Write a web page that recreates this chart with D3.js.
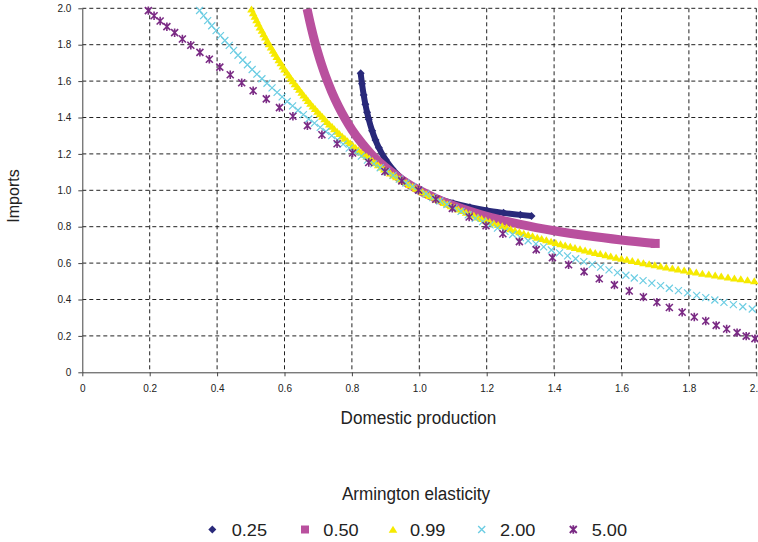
<!DOCTYPE html>
<html>
<head>
<meta charset="utf-8">
<script src="https://cdn.jsdelivr.net/npm/d3@7"></script>
<style>
  body { margin: 0; background: #fff; }
  text { font-family: "Liberation Sans", Arial, sans-serif; fill: #222; }
</style>
</head>
<body>
<div id="chart"></div>
<script>
// Armington elasticity curves
var seriesLabels = ["0.25", "0.50", "0.99", "2.00", "5.00"];
var tickValues = [0, 0.2, 0.4, 0.6, 0.8, 1.0, 1.2, 1.4, 1.6, 1.8, 2.0];

var x025 = [0.826,0.830,0.835,0.840,0.845,0.850,0.860,0.870,0.880,0.900,0.920,0.940,0.960,0.980,1.000,1.030,1.060,1.100,1.150,1.200,1.250,1.300,1.333];
var y025 = [1.643,1.585,1.524,1.473,1.429,1.391,1.327,1.276,1.234,1.168,1.118,1.079,1.048,1.022,1.000,0.973,0.952,0.929,0.907,0.889,0.876,0.865,0.859];

var x050 = [0.667,0.670,0.680,0.690,0.700,0.710,0.720,0.740,0.760,0.780,0.800,0.830,0.860,0.900,0.950,1.000,1.050,1.100,1.150,1.200,1.300,1.400,1.500,1.600,1.700];
var y050 = [1.997,1.971,1.889,1.816,1.750,1.690,1.636,1.542,1.462,1.393,1.333,1.258,1.194,1.125,1.056,1.000,0.955,0.917,0.885,0.857,0.813,0.778,0.750,0.727,0.708];

var x099 = [0.502,0.507,0.512,0.517,0.522,0.527,0.533,0.538,0.543,0.549,
  0.554,0.560,0.566,0.571,0.577,0.583,0.589,0.595,0.600,0.607,
  0.613,0.619,0.625,0.631,0.638,0.644,0.651,0.657,0.664,0.670,
  0.677,0.684,0.691,0.698,0.705,0.712,0.719,0.726,0.733,0.741,
  0.748,0.756,0.763,0.771,0.779,0.787,0.795,0.803,0.811,0.819,
  0.827,0.835,0.844,0.852,0.861,0.869,0.878,0.887,0.896,0.905,
  0.914,0.923,0.932,0.942,0.951,0.961,0.970,0.980,0.990,
  1.000,1.010,1.020,1.030,1.041,1.051,1.062,1.073,1.083,1.094,
  1.105,1.116,1.127,1.139,1.150,1.162,1.174,1.185,1.197,1.209,
  1.221,1.234,1.246,1.259,1.271,1.284,1.297,1.310,1.323,1.336,
  1.350,1.363,1.377,1.391,1.405,1.419,1.433,1.448,1.462,1.477,
  1.492,1.507,1.522,1.537,1.553,1.568,1.584,1.600,1.616,1.632,
  1.649,1.665,1.682,1.699,1.716,1.733,1.751,1.768,1.786,1.804,
  1.822,1.840,1.859,1.878,1.896,1.916,1.935,1.954,1.974,1.994];
var y099 = [1.994,1.974,1.954,1.935,1.916,1.896,1.878,1.859,1.840,1.822,
  1.804,1.786,1.768,1.751,1.733,1.716,1.699,1.682,1.665,1.649,
  1.632,1.616,1.600,1.584,1.568,1.553,1.537,1.522,1.507,1.492,
  1.477,1.462,1.448,1.433,1.419,1.405,1.391,1.377,1.363,1.350,
  1.336,1.323,1.310,1.297,1.284,1.271,1.259,1.246,1.234,1.221,
  1.209,1.197,1.185,1.174,1.162,1.150,1.139,1.127,1.116,1.105,
  1.094,1.083,1.073,1.062,1.051,1.041,1.030,1.020,1.010,1.000,
  0.990,0.980,0.970,0.961,0.951,0.942,0.932,0.923,0.914,
  0.905,0.896,0.887,0.878,0.869,0.861,0.852,0.844,0.835,0.827,
  0.819,0.811,0.803,0.795,0.787,0.779,0.771,0.763,0.756,0.748,
  0.741,0.733,0.726,0.719,0.712,0.705,0.698,0.691,0.684,0.677,
  0.670,0.664,0.657,0.651,0.644,0.638,0.631,0.625,0.619,0.613,
  0.607,0.600,0.595,0.589,0.583,0.577,0.571,0.566,0.560,0.554,
  0.549,0.543,0.538,0.533,0.527,0.522,0.517,0.512,0.507,0.502];

var x200 = [0.348,0.360,0.372,0.384,0.397,0.410,0.423,0.436,0.449,0.462,
  0.476,0.490,0.504,0.518,0.533,0.548,0.563,0.578,0.593,0.608,
  0.624,0.640,0.656,0.672,0.689,0.706,0.723,0.740,0.757,0.774,
  0.792,0.810,0.828,0.846,0.865,0.884,0.903,0.922,0.941,0.960,
  0.980,1.000,1.020,1.040,1.061,1.082,1.103,1.124,1.145,1.166,
  1.188,1.210,1.232,1.254,1.277,1.300,1.323,1.346,1.369,1.392,
  1.416,1.440,1.464,1.488,1.513,1.538,1.563,1.588,1.613,1.638,
  1.664,1.690,1.716,1.742,1.769,1.796,1.823,1.850,1.877,1.904,
  1.932,1.960,1.988];
var y200 = [1.988,1.960,1.932,
  1.904,1.877,1.850,1.823,1.796,1.769,1.742,1.716,1.690,1.664,
  1.638,1.613,1.588,1.563,1.538,1.513,1.488,1.464,1.440,1.416,
  1.392,1.369,1.346,1.323,1.300,1.277,1.254,1.232,1.210,1.188,
  1.166,1.145,1.124,1.103,1.082,1.061,1.040,1.020,1.000,0.980,
  0.960,0.941,0.922,0.903,0.884,0.865,0.846,0.828,0.810,0.792,
  0.774,0.757,0.740,0.723,0.706,0.689,0.672,0.656,0.640,0.624,
  0.608,0.593,0.578,0.563,0.548,0.533,0.518,0.504,0.490,0.476,
  0.462,0.449,0.436,0.423,0.410,0.397,0.384,0.372,0.360,0.348];

var x500 = [0.196,0.213,0.231,0.251,0.274,0.297,0.322,0.349,0.377,0.408,
  0.439,0.473,0.507,0.546,0.585,0.625,0.668,0.711,0.756,0.802,
  0.850,0.898,0.948,0.998,1.049,1.098,1.148,1.198,1.248,1.297,
  1.347,1.395,1.443,1.489,1.534,1.579,1.623,1.665,1.705,1.742,
  1.780,1.816,1.850,1.881,1.912,1.943,1.970,1.996];
var y500 = [1.987,1.959,1.930,1.899,1.866,1.831,1.797,1.758,1.720,1.677,
  1.635,1.591,1.547,1.502,1.454,1.407,1.355,1.305,1.256,1.205,
  1.153,1.103,1.052,1.001,0.951,0.901,0.853,0.805,0.761,0.718,
  0.674,0.630,0.591,0.553,0.514,0.480,0.447,0.414,0.385,0.356,
  0.330,0.304,0.282,0.258,0.238,0.218,0.199,0.185];

var svgWidth = 758;
var svgHeight = 542;
var margin = { top: 8.3, left: 82.3 };
var width = 674;
var height = 364;

var svg = d3.select("#chart")
  .append("svg")
  .attr("width", svgWidth)
  .attr("height", svgHeight);

var chartGroup = svg.append("g")
  .attr("transform", `translate(${margin.left}, ${margin.top})`);

var xLinearScale = d3.scaleLinear().domain([0, 2]).range([0, width]);
var yLinearScale = d3.scaleLinear().domain([0, 2]).range([height, 0]);

var fmt = d => d === 0 ? "0" : d3.format(".1f")(d);

// dashed gridlines
chartGroup.append("g").selectAll("line.gx")
  .data(tickValues.filter(d => d > 0))
  .enter().append("line")
  .attr("x1", d => xLinearScale(d)).attr("x2", d => xLinearScale(d))
  .attr("y1", 0).attr("y2", height)
  .attr("stroke", "#222").attr("stroke-dasharray", "4,3");

chartGroup.append("g").selectAll("line.gy")
  .data(tickValues.filter(d => d > 0))
  .enter().append("line")
  .attr("y1", d => yLinearScale(d)).attr("y2", d => yLinearScale(d))
  .attr("x1", 0).attr("x2", width)
  .attr("stroke", "#222").attr("stroke-dasharray", "4,3");

// axes
var bottomAxis = d3.axisBottom(xLinearScale).tickValues(tickValues)
  .tickSize(4).tickSizeOuter(0).tickPadding(9).tickFormat(fmt);
var leftAxis = d3.axisLeft(yLinearScale).tickValues(tickValues)
  .tickSize(4).tickSizeOuter(0).tickPadding(7).tickFormat(fmt);

var xAxis = chartGroup.append("g")
  .attr("transform", `translate(0, ${height})`)
  .call(bottomAxis);
var yAxis = chartGroup.append("g").call(leftAxis);

[xAxis, yAxis].forEach(function(a) {
  a.select(".domain").attr("stroke", "#444");
  a.selectAll(".tick line").attr("stroke", "#444");
  a.selectAll("text").style("font-size", "10px")
    .style("font-family", "'Liberation Sans', Arial, sans-serif").attr("fill", "#222");
});

// marker shapes
var shapes = {
  diamond: "M0,-4L4,0L0,4L-4,0Z",
  square: "M-4,-4H4V4H-4Z",
  squareBig: "M-4.5,-4.5H4.5V4.5H-4.5Z",
  triangle: "M0,-3.8L4.3,3.2L-4.3,3.2Z",
  cross: "M-3.5,-3.5L3.5,3.5M-3.5,3.5L3.5,-3.5",
  star: "M-3.5,-3.5L3.5,3.5M-3.5,3.5L3.5,-3.5M0,-4.2L0,4.2"
};

var series = [
  { xs: x025, ys: y025, color: "#29297a", shape: "diamond", line: 6 },
  { xs: x050, ys: y050, color: "#b9509e", shape: "square", line: 9 },
  { xs: x099, ys: y099, color: "#f6ea00", shape: "triangle", line: 0 },
  { xs: x200, ys: y200, color: "#6ccde3", shape: "cross", line: 0 },
  { xs: x500, ys: y500, color: "#7a2a84", shape: "star", line: 0 }
];

svg.append("defs").append("clipPath").attr("id", "plotClip")
  .append("rect").attr("x", 0).attr("y", 0).attr("width", width).attr("height", height);

var lineGen = d3.line()
  .x(d => xLinearScale(d[0]))
  .y(d => yLinearScale(d[1]))
  .curve(d3.curveMonotoneX);

function isFilled(shape) {
  return shape === "diamond" || shape === "square" || shape === "squareBig" || shape === "triangle";
}

function drawMarks(g, shape, color, pts) {
  var filled = isFilled(shape);
  g.selectAll("path.m")
    .data(pts)
    .enter().append("path")
    .attr("class", "m")
    .attr("transform", d => `translate(${xLinearScale(d[0])}, ${yLinearScale(d[1])})`)
    .attr("d", shapes[shape])
    .attr("fill", filled ? color : "none")
    .attr("stroke", filled ? "none" : color)
    .attr("stroke-width", shape === "star" ? 1.6 : 1.2);
}

series.forEach(function(s) {
  var pts = s.xs.map((x, i) => [x, s.ys[i]]);
  var g = chartGroup.append("g");
  if (s.line > 0) {
    // the dense markers read as a solid band
    g.append("path")
      .attr("clip-path", "url(#plotClip)")
      .attr("d", lineGen(pts))
      .attr("fill", "none")
      .attr("stroke", s.color)
      .attr("stroke-width", s.line);
    if (s.shape === "square") drawMarks(g, "squareBig", s.color, pts.slice(-1));
    else drawMarks(g, s.shape, s.color, pts);
  } else {
    drawMarks(g, s.shape, s.color, pts);
  }
});

// titles
function addText(x, y, str, size, sx, anchor) {
  return svg.append("text")
    .attr("transform", `translate(${x}, ${y}) scale(${sx}, 1)`)
    .attr("text-anchor", anchor)
    .style("font-size", size + "px")
    .text(str);
}

addText(418.5, 424, "Domestic production", 19, 0.9, "middle");
addText(416, 500, "Armington elasticity", 19, 0.9, "middle");

svg.append("text")
  .attr("transform", "translate(18.5, 196) rotate(-90)")
  .attr("text-anchor", "middle")
  .style("font-size", "16px")
  .text("Imports");

// legend
var legendMarkX = [212.3, 305, 393, 481.7, 573.3];
var legendTextX = [231.7, 323.3, 410, 500, 591.7];
var legend = svg.append("g");
series.forEach(function(s, i) {
  var g = legend.append("g");
  var filled = isFilled(s.shape);
  g.append("path")
    .attr("transform", `translate(${legendMarkX[i]}, 529.5)`)
    .attr("d", shapes[s.shape])
    .attr("fill", filled ? s.color : "none")
    .attr("stroke", filled ? "none" : s.color)
    .attr("stroke-width", s.shape === "star" ? 1.8 : 1.4);
  g.append("text")
    .attr("transform", `translate(${legendTextX[i]}, 535.5) scale(1.07, 1)`)
    .style("font-size", "17px")
    .text(seriesLabels[i]);
});
</script>
</body>
</html>
